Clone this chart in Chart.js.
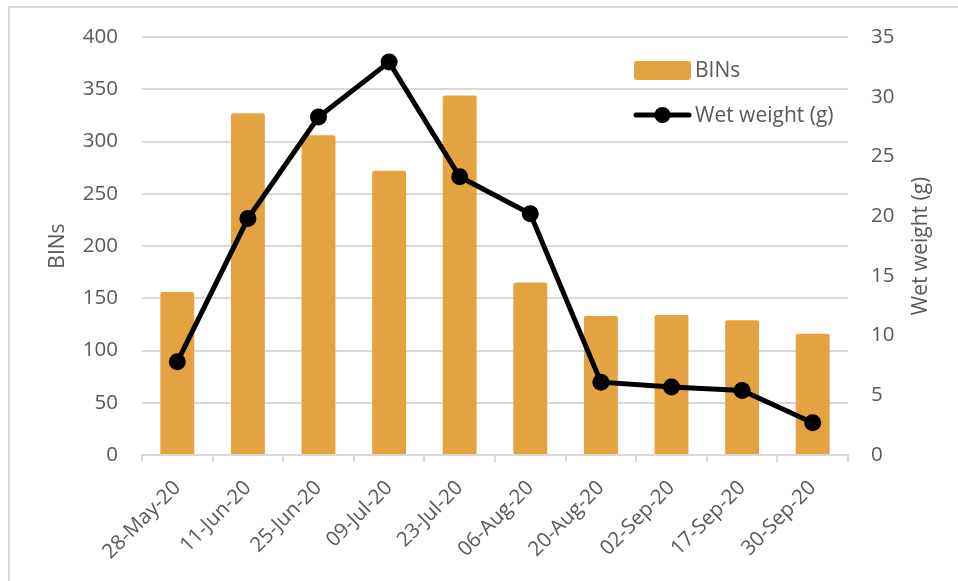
<!DOCTYPE html>
<html>
<head>
<meta charset="utf-8">
<script src="https://cdn.jsdelivr.net/npm/chart.js@4"></script>
<style>
    html, body { margin: 0; padding: 0; background: #fff; }
    #wrap { width: 958px; height: 581px; position: relative; }
</style>
</head>
<body>
<div id="wrap"><canvas id="chart"></canvas></div>
<script>
// data
const categories = ['28-May-20', '11-Jun-20', '25-Jun-20', '09-Jul-20', '23-Jul-20', '06-Aug-20', '20-Aug-20', '02-Sep-20', '17-Sep-20', '30-Sep-20'];
const bins = [156, 327, 306, 272, 344, 165, 133, 134, 129, 116];
const wetWeight = [7.8, 19.8, 28.3, 32.9, 23.3, 20.2, 6.1, 5.7, 5.4, 2.7];
const binsTicks = [0, 50, 100, 150, 200, 250, 300, 350, 400];
const weightTicks = [0, 5, 10, 15, 20, 25, 30, 35];

const FONT = "'Open Sans', 'Liberation Sans', sans-serif";
const TEXT = '#595959';
const GRID = '#d9d9d9';
const ORANGE = '#e5a240';

// frame, axis titles and legend, Excel style
const decor = {
    id: 'decor',
    beforeDraw: function(chart) {
        const ctx = chart.ctx;
        ctx.save();
        ctx.strokeStyle = GRID;
        ctx.lineWidth = 2;
        ctx.beginPath();
        ctx.moveTo(9, chart.height);
        ctx.lineTo(9, 7);
        ctx.lineTo(chart.width, 7);
        ctx.stroke();
        ctx.restore();
    },
    afterDraw: function(chart) {
        const ctx = chart.ctx;
        const area = chart.chartArea;
        const midY = (area.top + area.bottom) / 2;
        ctx.save();
        ctx.fillStyle = TEXT;
        ctx.font = '21px ' + FONT;
        ctx.textAlign = 'center';
        ctx.textBaseline = 'middle';

        // axis titles, both reading bottom to top
        ctx.save();
        ctx.translate(58, midY);
        ctx.rotate(-Math.PI / 2);
        ctx.fillText('BINs', 0, 0);
        ctx.restore();

        ctx.save();
        ctx.translate(921, midY);
        ctx.rotate(-Math.PI / 2);
        ctx.fillText('Wet weight (g)', 0, 0);
        ctx.restore();

        // legend
        const ds = chart.data.datasets;
        ctx.textAlign = 'left';
        ctx.fillStyle = ORANGE;
        ctx.beginPath();
        ctx.roundRect(634, 61, 57, 19, 3);
        ctx.fill();
        ctx.fillStyle = TEXT;
        ctx.fillText(ds[1].label, 695, 71);

        ctx.strokeStyle = '#000';
        ctx.lineWidth = 5;
        ctx.lineCap = 'round';
        ctx.beginPath();
        ctx.moveTo(636, 115);
        ctx.lineTo(689, 115);
        ctx.stroke();
        ctx.fillStyle = '#000';
        ctx.beginPath();
        ctx.arc(662.5, 115, 8, 0, Math.PI * 2);
        ctx.fill();
        ctx.fillStyle = TEXT;
        ctx.fillText(ds[0].label, 695, 116);
        ctx.restore();
    }
};

new Chart(document.getElementById('chart'), {
    type: 'bar',
    data: {
        labels: categories,
        datasets: [
            {
                type: 'line',
                label: 'Wet weight (g)',
                data: wetWeight,
                yAxisID: 'y1',
                borderColor: '#000',
                backgroundColor: '#000',
                borderWidth: 5,
                pointRadius: 8.5,
                pointHoverRadius: 8.5,
                pointBorderWidth: 0,
                tension: 0,
                order: 0
            },
            {
                label: 'BINs',
                data: bins,
                yAxisID: 'y',
                backgroundColor: ORANGE,
                borderRadius: 2,
                borderSkipped: 'bottom',
                categoryPercentage: 1,
                barPercentage: 0.48,
                order: 1
            }
        ]
    },
    options: {
        responsive: true,
        maintainAspectRatio: false,
        animation: false,
        layout: { padding: { top: 37, left: 0, right: 0, bottom: 0 } },
        plugins: {
            legend: { display: false },
            tooltip: { enabled: false }
        },
        scales: {
            x: {
                offset: true,
                grid: { offset: true, drawOnChartArea: false, color: GRID, lineWidth: 2, tickLength: 7 },
                border: { color: GRID, width: 2 },
                ticks: {
                    color: TEXT,
                    font: { family: FONT, size: 20.5 },
                    minRotation: 45,
                    maxRotation: 45,
                    padding: 14
                },
                afterFit: function(scale) { scale.height = 126; }
            },
            y: {
                position: 'left',
                min: 0,
                max: 400,
                afterBuildTicks: function(scale) { scale.ticks = binsTicks.map(v => ({ value: v })); },
                grid: { color: GRID, lineWidth: 2, drawTicks: false },
                border: { display: false },
                ticks: { color: TEXT, font: { family: FONT, size: 20.5 }, padding: 24 },
                afterFit: function(scale) { scale.width = 142; }
            },
            y1: {
                position: 'right',
                min: 0,
                max: 35,
                afterBuildTicks: function(scale) { scale.ticks = weightTicks.map(v => ({ value: v })); },
                grid: { drawOnChartArea: false, drawTicks: false },
                border: { display: false },
                ticks: { color: TEXT, font: { family: FONT, size: 20.5 }, padding: 23 },
                afterFit: function(scale) { scale.width = 110; }
            }
        }
    },
    plugins: [decor]
});
</script>
</body>
</html>
